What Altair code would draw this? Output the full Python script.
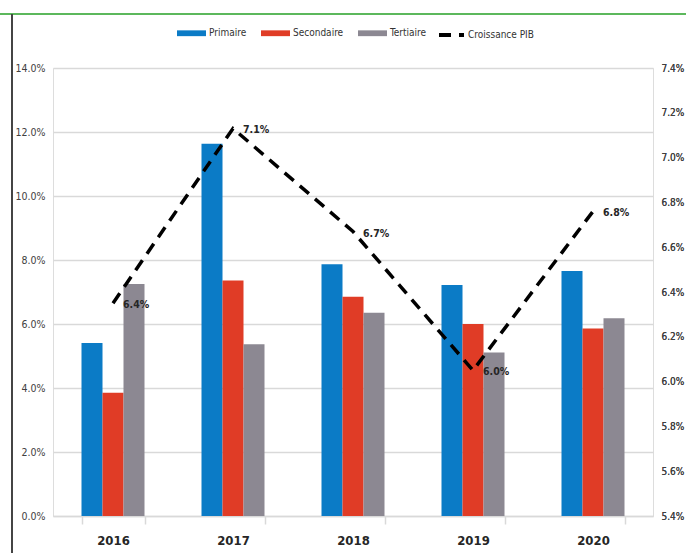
import altair as alt
import pandas as pd

FONT = "'DejaVu Sans Condensed', 'Liberation Sans Narrow', sans-serif"

annees = ["2016", "2017", "2018", "2019", "2020"]
series = ["Primaire", "Secondaire", "Tertiaire"]
couleurs = ["#0B7BC6", "#E03C26", "#8C8892"]
primaire = [0.0541, 0.1163, 0.0787, 0.0722, 0.0766]
secondaire = [0.0385, 0.0736, 0.0685, 0.0600, 0.0586]
tertiaire = [0.0725, 0.0537, 0.0635, 0.0511, 0.0618]
croissance_pib = [0.0635, 0.0713, 0.0667, 0.0605, 0.0676]
etiquettes_pib = ["6.4%", "7.1%", "6.7%", "6.0%", "6.8%"]
ticks_gauche = [0.0, 0.02, 0.04, 0.06, 0.08, 0.10, 0.12, 0.14]
ticks_droite = [0.054, 0.056, 0.058, 0.060, 0.062, 0.064, 0.066, 0.068, 0.070, 0.072, 0.074]

rows = []
for s, vals in zip(series, [primaire, secondaire, tertiaire]):
    for a, v in zip(annees, vals):
        rows.append({"annee": a, "serie": s, "valeur": v})
bars_df = pd.DataFrame(rows)
line_df = pd.DataFrame({"annee": annees, "pib": croissance_pib,
                        "label": etiquettes_pib, "nom": ["Croissance PIB"] * 5})

x_enc = alt.X("annee:N", sort=annees, title=None,
              scale=alt.Scale(paddingInner=0.475, paddingOuter=0.2375),
              axis=alt.Axis(labelAngle=0, labelFont=FONT, labelFontSize=13,
                            labelFontWeight="bold", labelColor="#262626",
                            labelPadding=10, tickBand="extent", tickSize=8,
                            tickColor="#D9D9D9", tickWidth=1.5,
                            domainColor="#D9D9D9", domainWidth=1.5, grid=False))

bars = alt.Chart(bars_df).mark_bar().encode(
    x=x_enc,
    xOffset=alt.XOffset("serie:N", sort=series, scale=alt.Scale(paddingInner=0, paddingOuter=0)),
    y=alt.Y("valeur:Q", title=None,
            scale=alt.Scale(domain=[0, 0.14], nice=False),
            axis=alt.Axis(format=".1%", values=ticks_gauche, labelFont=FONT,
                          labelFontSize=10.5, labelColor="#404040", labelPadding=8,
                          domain=False, ticks=False, grid=True,
                          gridColor="#D9D9D9", gridWidth=1.5)),
    color=alt.Color("serie:N", sort=series,
                    scale=alt.Scale(domain=series, range=couleurs),
                    legend=alt.Legend(title=None, orient="none", direction="horizontal",
                                      legendX=124, legendY=-49.5,
                                      symbolType="M-1,-0.2L1,-0.2L1,0.2L-1,0.2Z",
                                      symbolSize=841, symbolStrokeWidth=0,
                                      labelFont=FONT, labelFontSize=10,
                                      labelColor="#333333", labelOffset=3,
                                      columnPadding=14)),
)

line_base = alt.Chart(line_df).encode(
    x=alt.X("annee:N", sort=annees),
    y=alt.Y("pib:Q", title=None,
            scale=alt.Scale(domain=[0.054, 0.074], nice=False),
            axis=alt.Axis(orient="right", format=".1%", values=ticks_droite,
                          labelFont=FONT, labelFontSize=10, labelColor="#404040",
                          labelPadding=8, domain=False, ticks=False, grid=False)),
)

line = line_base.mark_line(color="black", strokeWidth=3.5).encode(
    strokeDash=alt.StrokeDash("nom:N",
                              scale=alt.Scale(domain=["Croissance PIB"], range=[[12, 8]]),
                              legend=alt.Legend(title=None, orient="none",
                                                legendX=384, legendY=-47.5,
                                                symbolType="stroke", symbolSize=625,
                                                symbolStrokeWidth=4,
                                                symbolStrokeColor="black",
                                                labelFont=FONT, labelFontSize=10,
                                                labelColor="#333333", labelOffset=2))
)

labels = line_base.mark_text(align="left", baseline="middle", dx=10, dy=2,
                             font=FONT, fontSize=10.5, fontWeight="bold",
                             color="#262626").encode(text="label:N")

frame_h = alt.Chart(line_df).mark_rule(color="#5CB85C", strokeWidth=1.5).encode(
    x=alt.value(-53), x2=alt.value(633), y=alt.value(-54))
frame_v = alt.Chart(line_df).mark_rule(color="#444444", strokeWidth=1.2).encode(
    x=alt.value(-41), y=alt.value(-54), y2=alt.value(485))

chart = alt.layer(
    alt.layer(bars, line, labels).resolve_scale(y="independent", color="independent"),
    frame_h, frame_v,
).properties(
    width=600, height=448,
    autosize=alt.AutoSizeParams(type="none"),
    padding={"left": 53, "top": 68, "right": 33, "bottom": 37},
).configure_view(stroke=None).configure(background="white")

chart.save("out.html", embed_options={"renderer": "svg", "actions": False})
